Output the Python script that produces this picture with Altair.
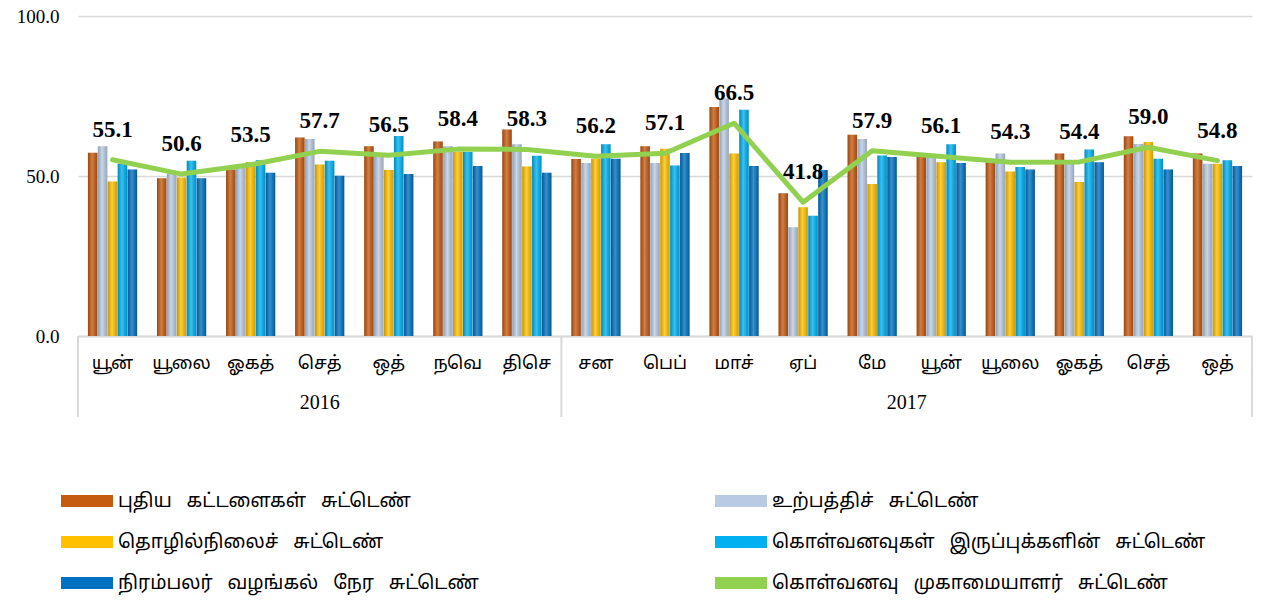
import altair as alt
import pandas as pd

# ---------------- data ----------------
months = ["யூன்", "யூலை", "ஓகத்", "செத்", "ஒத்", "நவெ", "திசெ",
          "சன", "பெப்", "மாச்", "ஏப்", "மே", "யூன்", "யூலை", "ஓகத்", "செத்", "ஒத்"]
years = [2016] * 7 + [2017] * 10
keys = [f"{m} {y}" for m, y in zip(months, years)]

SP = " \u00a0\u00a0"
name_orders = SP.join(["புதிய", "கட்டளைகள்", "சுட்டெண்"])
name_prod = SP.join(["உற்பத்திச்", "சுட்டெண்"])
name_emp = SP.join(["தொழில்நிலைச்", "சுட்டெண்"])
name_stock = SP.join(["கொள்வனவுகள்", "இருப்புக்களின்", "சுட்டெண்"])
name_deliv = SP.join(["நிரம்பலர்", "வழங்கல்", "நேர", "சுட்டெண்"])
name_pmi = SP.join(["கொள்வனவு", "முகாமையாளர்", "சுட்டெண்"])

new_orders = [57.3, 49.3, 52.0, 62.0, 59.3, 60.8, 64.5, 55.3, 59.3, 71.6, 44.6, 62.9, 55.9, 54.3, 57.0, 62.4, 57.0]
production = [59.3, 50.7, 53.3, 61.6, 55.9, 59.3, 59.9, 54.1, 54.1, 74.2, 34.0, 61.6, 55.9, 57.0, 53.8, 60.0, 53.8]
employment = [48.3, 49.5, 54.4, 53.6, 51.9, 57.5, 53.0, 55.4, 58.5, 57.0, 40.2, 47.5, 54.3, 51.4, 48.1, 60.6, 53.8]
stock = [53.8, 54.8, 54.9, 54.8, 62.5, 57.5, 56.3, 59.9, 53.3, 70.7, 37.6, 56.4, 59.9, 52.8, 58.3, 55.4, 54.9]
delivery = [52.0, 49.3, 51.0, 50.1, 50.6, 53.1, 51.0, 55.4, 57.2, 53.1, 51.9, 55.9, 54.1, 52.0, 54.3, 52.0, 53.1]
pmi = [55.1, 50.6, 53.5, 57.7, 56.5, 58.4, 58.3, 56.2, 57.1, 66.5, 41.8, 57.9, 56.1, 54.3, 54.4, 59.0, 54.8]

bar_names = [name_orders, name_prod, name_emp, name_stock, name_deliv]
bar_values = [new_orders, production, employment, stock, delivery]
all_names = bar_names + [name_pmi]
colors = ["#C55A11", "#B9CBE4", "#FFC000", "#00B0F0", "#0070C0", "#92D050"]

year_labels = ["2016", "2017"]
year_anchor = [keys[3], keys[12]]

# ---------------- tables ----------------
rows = []
for i, k in enumerate(keys):
    for s, vals in zip(bar_names, bar_values):
        rows.append({"key": k, "series": s, "value": vals[i]})
bars_df = pd.DataFrame(rows)
line_df = pd.DataFrame({"key": keys, "pmi": pmi, "series": name_pmi})

SERIF = "Liberation Serif"
TAMIL = "Noto Sans Tamil, Latha, Noto Serif Tamil, Lohit Tamil, sans-serif"
GRID = "#D9D9D9"

color_scale = alt.Scale(domain=all_names, range=colors)
xscale = alt.Scale(paddingInner=0, paddingOuter=0)

RECT = "M-1,-0.23H1V0.23H-1Z"
legend = alt.Legend(
    title=None, orient="none", legendX=-17, legendY=459, columns=2, direction="horizontal",
    symbolType=RECT, symbolSize=2704, symbolStrokeWidth=0,
    labelFont=TAMIL, labelFontSize=19, labelColor="black", labelLimit=700,
    labelOffset=5, rowPadding=5, columnPadding=236, padding=0,
)

x_main = alt.X("key:N", sort=keys, scale=xscale,
               axis=alt.Axis(title=None, labelExpr="split(datum.label, ' ')[0]",
                             labelAngle=0, labelFont=TAMIL, labelFontSize=18,
                             labelColor="black", labelBaseline="middle",
                             labelPadding=27, ticks=False, tickSize=0,
                             domainColor=GRID, domainWidth=2, grid=False))
y_main = alt.Y("value:Q", scale=alt.Scale(domain=[0, 100], nice=False),
               axis=alt.Axis(title=None, values=[0, 50, 100], format=".1f",
                             labelFont=SERIF, labelFontSize=19, labelColor="black",
                             labelPadding=19, domain=False, ticks=False,
                             gridColor=GRID, gridWidth=1.5))
xoff = alt.XOffset("series:N", sort=bar_names,
                   scale=alt.Scale(paddingInner=0.04, paddingOuter=1.0))

bars = alt.Chart(bars_df).mark_bar().encode(
    x=x_main, y=y_main, xOffset=xoff,
    color=alt.Color("series:N", scale=color_scale, legend=legend),
)

shine = alt.Chart(bars_df).mark_bar(
    fill={"gradient": "linear", "x1": 0, "x2": 1, "y1": 0, "y2": 0,
          "stops": [{"offset": 0, "color": "rgba(0,0,0,0.22)"},
                    {"offset": 0.45, "color": "rgba(255,255,255,0.22)"},
                    {"offset": 1, "color": "rgba(0,0,0,0.18)"}]}
).encode(
    x=alt.X("key:N", sort=keys), y="value:Q", xOffset=alt.XOffset("series:N", sort=bar_names),
)

line = alt.Chart(line_df).mark_line(strokeWidth=5, strokeJoin="round", strokeCap="round").encode(
    x=alt.X("key:N", sort=keys), y=alt.Y("pmi:Q"),
    color=alt.Color("series:N", scale=color_scale, legend=legend),
)

labels = alt.Chart(line_df).mark_text(
    dy=-30, font=SERIF, fontSize=23, fontWeight="bold", color="black", baseline="middle"
).encode(
    x=alt.X("key:N", sort=keys), y=alt.Y("pmi:Q"), text=alt.Text("pmi:Q", format=".1f"),
)

sep_start = alt.Chart(pd.DataFrame({"key": [keys[0], keys[7]]})).mark_rule(
    color=GRID, strokeWidth=2
).encode(x=alt.X("key:N", sort=keys, bandPosition=0), y=alt.value(320), y2=alt.value(401))

sep_end = alt.Chart(pd.DataFrame({"key": [keys[-1]]})).mark_rule(
    color=GRID, strokeWidth=2
).encode(x=alt.X("key:N", sort=keys, bandPosition=1), y=alt.value(320), y2=alt.value(401))

yr_df = pd.DataFrame({"key": year_anchor, "year": year_labels})
yr1 = alt.Chart(yr_df.iloc[[0]]).mark_text(font=SERIF, fontSize=20, color="black").encode(
    x=alt.X("key:N", sort=keys, bandPosition=0.5), y=alt.value(387), text="year:N")
yr2 = alt.Chart(yr_df.iloc[[1]]).mark_text(font=SERIF, fontSize=20, color="black").encode(
    x=alt.X("key:N", sort=keys, bandPosition=0.0), y=alt.value(387), text="year:N")

chart = alt.layer(bars, shine, line, labels, sep_start, sep_end, yr1, yr2).properties(
    width=1174, height=320,
    autosize=alt.AutoSizeParams(type="none"),
    padding={"left": 70, "top": 8, "right": 2, "bottom": 262},
).configure_view(stroke=None)

chart.save("out.html", embed_options={"renderer": "svg", "actions": False})
